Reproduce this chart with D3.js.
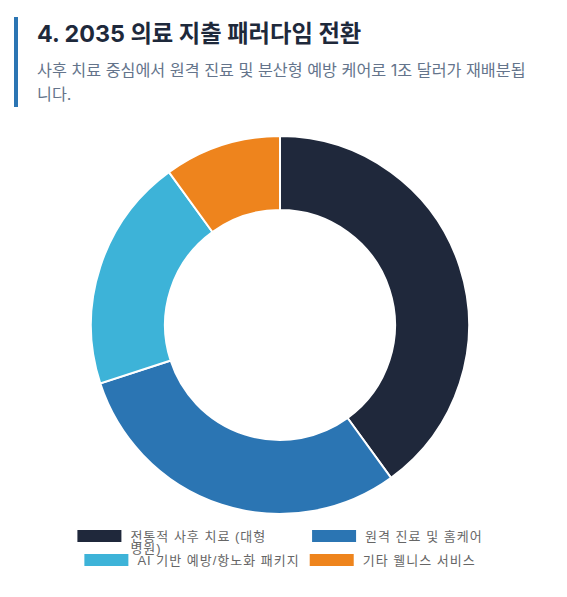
<!DOCTYPE html>
<html lang="ko">
<head>
<meta charset="UTF-8">
<title>2035 의료 지출 패러다임 전환</title>
<script src="https://d3js.org/d3.v7.min.js"></script>
<style>
    body { margin: 0; background: #fff; }
    #chart { display: block; }
</style>
</head>
<body>
<div id="chart"></div>
<script>
// 2035 spending split (share of the 1조 dollars, %)
const categories = ["전통적 사후 치료 (대형 병원)", "원격 진료 및 홈케어", "AI 기반 예방/항노화 패키지", "기타 웰니스 서비스"];
const shares = [40, 30, 20, 10];
const colors = ["#1f283b", "#2b75b3", "#3db3d8", "#ee841d"];

const title = "4. 2035 의료 지출 패러다임 전환";
const subtitleLines = ["사후 치료 중심에서 원격 진료 및 분산형 예방 케어로 1조 달러가 재배분됩", "니다."];

const width = 567, height = 597;
const cx = 280, cy = 325;
const outerR = 189, innerR = 115;

const svg = d3.select("#chart").append("svg")
    .attr("width", width)
    .attr("height", height);

// header with left accent bar
svg.append("rect")
    .attr("x", 14).attr("y", 17)
    .attr("width", 4).attr("height", 90)
    .attr("fill", "#2b75b3");

svg.append("text")
    .attr("x", 37).attr("y", 42)
    .style("font-family", "Inter, 'Noto Sans CJK KR', sans-serif")
    .style("font-weight", 700)
    .style("font-size", "23.3px")
    .attr("fill", "#1e293b")
    .text(title);

svg.append("g").selectAll("text")
    .data(subtitleLines)
    .join("text")
    .attr("x", 37)
    .attr("y", (d, i) => 76 + i * 24)
    .style("font-family", "Inter, 'Noto Sans CJK KR', sans-serif")
    .style("font-size", "16.2px")
    .attr("fill", "#64748b")
    .text(d => d);

// donut
const pie = d3.pie().sort(null).value(d => d.value);
const arc = d3.arc().innerRadius(innerR).outerRadius(outerR);
const slices = categories.map((c, i) => ({ label: c, value: shares[i], color: colors[i] }));

svg.append("g")
    .attr("transform", `translate(${cx},${cy})`)
    .selectAll("path")
    .data(pie(slices))
    .join("path")
    .attr("d", arc)
    .attr("fill", d => d.data.color)
    .attr("stroke", "#fff")
    .attr("stroke-width", 2);

// legend: two rows of two, each row centred, long labels wrap
const boxW = 44, boxH = 12, fontSize = 13, wrapW = 168;
const legendRows = [[0, 1], [2, 3]];
const rowY = [536, 560];
const legendFont = "'Liberation Sans', Arial, 'Noto Sans CJK KR', sans-serif";
const legend = svg.append("g");

const measure = legend.append("text")
    .style("font-family", legendFont)
    .style("font-size", fontSize + "px")
    .style("letter-spacing", "1px");
function textWidth(s) { measure.text(s); return measure.node().getComputedTextLength(); }

legendRows.forEach((row, r) => {
    const widths = row.map(i => boxW + 9 + textWidth(categories[i]));
    const total = d3.sum(widths) + 10 * (row.length - 1);
    let x = cx - total / 2;
    row.forEach((i, k) => {
        const g = legend.append("g").attr("transform", `translate(${x},${rowY[r]})`);
        g.append("rect")
            .attr("x", 0).attr("y", -6)
            .attr("width", boxW).attr("height", boxH)
            .attr("fill", colors[i]);
        const words = categories[i].split(" ");
        const lines = [];
        let cur = "";
        words.forEach(w => {
            const t = cur ? cur + " " + w : w;
            if (cur && textWidth(t) > wrapW) { lines.push(cur); cur = w; } else cur = t;
        });
        lines.push(cur);
        g.append("text")
            .style("font-family", legendFont)
            .style("font-size", fontSize + "px")
            .style("letter-spacing", "1px")
            .attr("fill", "#666")
            .selectAll("tspan")
            .data(lines)
            .join("tspan")
            .attr("x", boxW + 9)
            .attr("y", (d, j) => 4.5 + j * 12)
            .text(d => d);
        x += widths[k] + 10;
    });
});
measure.remove();
</script>
</body>
</html>
